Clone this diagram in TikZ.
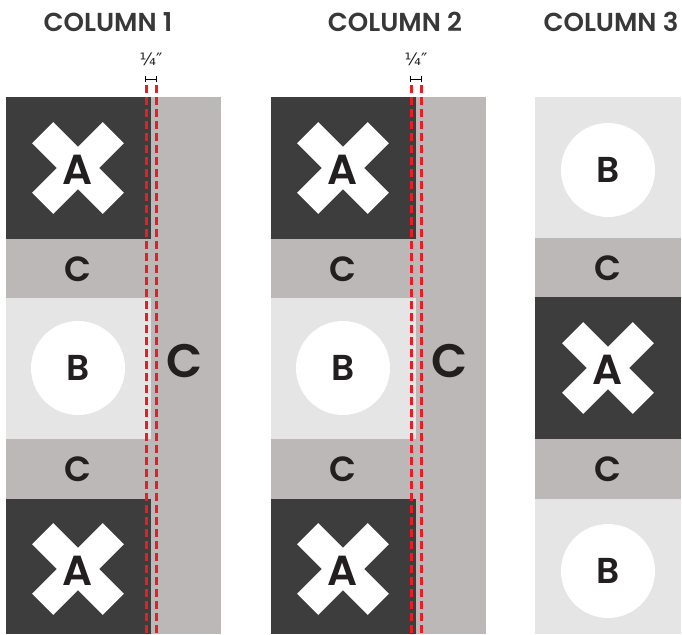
\documentclass[tikz,border=0pt]{standalone}
\usepackage{fontspec}
\setmainfont{Poppins}[BoldFont={Poppins SemiBold}]
\newfontfamily\dimfont{DejaVu Sans}
\usetikzlibrary{arrows.meta}

\definecolor{tiledark}{HTML}{3D3D3D}
\definecolor{tilemid}{HTML}{BCB8B7}
\definecolor{tilelight}{HTML}{E5E5E5}
\definecolor{inkdark}{HTML}{231F20}
\definecolor{cutred}{HTML}{EC1C24}

\begin{document}
\begin{tikzpicture}[
  x=1pt, y=-1pt,
  head/.style={font=\fontsize{26}{26}\selectfont\bfseries, text=black!78},
  lettA/.style={font=\fontsize{42}{42}\selectfont\bfseries, text=inkdark},
  lettB/.style={font=\fontsize{36}{36}\selectfont\bfseries, text=inkdark},
  lettC/.style={font=\fontsize{35}{35}\selectfont\bfseries, text=inkdark},
  bigC/.style={font=\fontsize{47}{47}\selectfont\bfseries, text=inkdark},
  disc/.style={circle, fill=white, minimum size=94pt, inner sep=0pt},
  cut/.style={cutred, line width=3pt, dash pattern=on 8pt off 4pt},
  dim/.style={{Bar[width=6pt]}-{Bar[width=6pt]}, line width=0.9pt},
  xmark/.pic={
    \fill[white, rotate=45] (-50,-15) rectangle (50,15);
    \fill[white, rotate=-45] (-50,-15) rectangle (50,15);
  },
]
\useasboundingbox (0,0) rectangle (682,634);

% ====== Headers ======
\node[head] (h1) at (108,22) {COLUMN 1};
\node[head] (h2) at (395,22) {COLUMN 2};
\node[head] (h3) at (611,22) {COLUMN 3};

% ====== Columns 1 and 2 (same layout) ======
\foreach \col/\dx in {1/0, 2/265} {
  \begin{scope}[xshift=\dx]
    \fill[tilemid] (6,97) rectangle (221,634);
    \fill[tiledark] (6,97) rectangle (151,239);
    \fill[tilelight] (6,298) rectangle (151,439);
    \fill[tiledark] (6,499) rectangle (151,634);

    \pic at (78,168) {xmark};
    \node[lettA] (a\col top) at (78,170) {A};
    \node[lettC] (c\col top) at (78,269) {C};
    \node[disc] (d\col) at (78,368) {};
    \node[lettB] (b\col) at (d\col) {B};
    \node[lettC] (c\col bot) at (78,469) {C};
    \pic at (78,569) {xmark};
    \node[lettA] (a\col bot) at (78,571) {A};
    \node[bigC] (c\col side) at (185,361) {C};

    % cut lines, 1/4 inch apart
    \coordinate (l\col) at (146,85);
    \coordinate (r\col) at (156,85);
    \draw[cut] (l\col) -- (146,634);
    \draw[cut] (r\col) -- (156,634);
    \draw[dim] (145,79) -- (157,79);
    \node[font=\dimfont\fontsize{17}{17}\selectfont, text=inkdark] (q\col) at (151,59) {¼″};
  \end{scope}
}

% ====== Column 3 ======
\fill[tilemid] (535,97) rectangle (681,634);
\fill[tilelight] (535,97) rectangle (681,238);
\fill[tiledark] (535,297) rectangle (681,439);
\fill[tilelight] (535,499) rectangle (681,634);

\node[disc] (d3top) at (608,170) {};
\node[lettB] (b3top) at (d3top) {B};
\node[lettC] (c3top) at (608,268) {C};
\pic at (608,368) {xmark};
\node[lettA] (a3) at (608,370) {A};
\node[lettC] (c3bot) at (608,469) {C};
\node[disc] (d3bot) at (608,571) {};
\node[lettB] (b3bot) at (d3bot) {B};

\end{tikzpicture}
\end{document}
